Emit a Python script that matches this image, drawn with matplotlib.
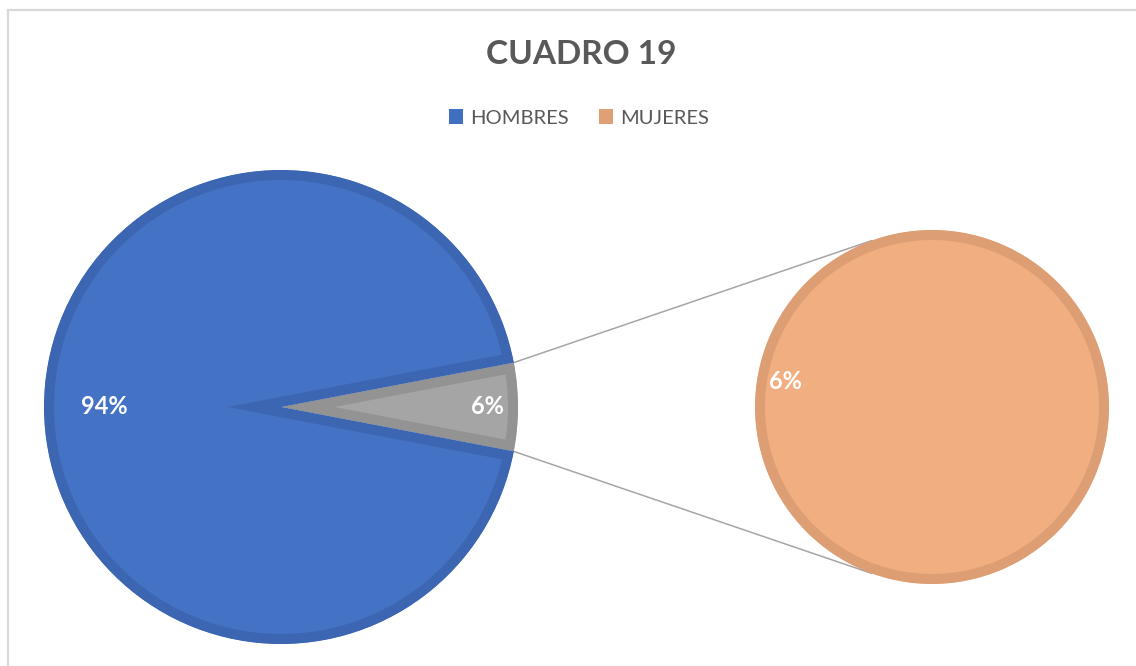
import numpy as np
import matplotlib
matplotlib.use("Agg")
import matplotlib.pyplot as plt
from matplotlib.patches import Patch, Rectangle

plt.rcParams["font.family"] = ["Lato", "DejaVu Sans"]

# data
categories = ['HOMBRES', 'MUJERES']
values = [94, 6]
title = 'CUADRO 19'

fill_colors = {'HOMBRES': '#4472C4', 'MUJERES': '#F1AE80', 'split': '#A5A5A5'}
edge_colors = {'HOMBRES': '#3C66B2', 'MUJERES': '#DE9E74', 'split': '#939393'}
legend_colors = ['#4070C0', '#DFA075']

W, H = 1136, 666
fig = plt.figure(figsize=(W / 100, H / 100), dpi=100)
ax = fig.add_axes([0, 0, 1, 1])
ax.set_xlim(0, W)
ax.set_ylim(0, H)
ax.set_aspect('equal')
ax.axis('off')

# chart-area frame (light grey)
ax.add_patch(Rectangle((8, -20), W + 40, H - 10 + 20, fill=False,
                       edgecolor='#D9D9D9', linewidth=1.6))

total = sum(values)
split_val = values[1]
split_deg = split_val / total * 360.0

# --- main pie (grey "other" slice first, centred on 0 deg) ---
c1 = (281, H - 407)
r1 = 237
main_vals = [split_val, values[0]]
main_fill = [fill_colors['split'], fill_colors['HOMBRES']]
main_edge = [edge_colors['split'], edge_colors['HOMBRES']]
wedges1, _, autot1 = ax.pie(main_vals, center=c1, radius=r1,
                            startangle=-split_deg / 2, counterclock=True,
                            colors=main_fill, autopct='%1.0f%%',
                            pctdistance=0.8, frame=True,
                            textprops=dict(color='white', fontsize=17,
                                           fontweight='bold'))
pct_dist = [0.87, 0.745]
for w, ec, t, d in zip(wedges1, main_edge, autot1, pct_dist):
    w.set_edgecolor(ec)
    w.set_linewidth(14.4)   # doubled; half is clipped -> inner stroke
    w.set_clip_on(True)
    w.set_clip_path(w)
    ang = np.deg2rad((w.theta1 + w.theta2) / 2)
    t.set_position((c1[0] + d * r1 * np.cos(ang), c1[1] + d * r1 * np.sin(ang)))

# --- secondary pie (breakdown of the grey slice) ---
c2 = (932, H - 407)
r2 = 177
wedges2, _, autot2 = ax.pie([values[1]], center=c2, radius=r2,
                            startangle=-10, colors=[fill_colors['MUJERES']],
                            autopct=lambda p: '{:.0f}%'.format(p * split_val / total),
                            pctdistance=0.84, frame=True,
                            textprops=dict(color='white', fontsize=17,
                                           fontweight='bold'))
for w in wedges2:
    w.set_edgecolor(edge_colors['MUJERES'])
    w.set_linewidth(14.4)
    w.set_clip_on(True)
    w.set_clip_path(w)

# connector lines between the grey slice and the second pie
gw = wedges1[0]
for a1, a2 in [(gw.theta2, 110), (gw.theta1, -110)]:
    p1 = (c1[0] + r1 * np.cos(np.deg2rad(a1)), c1[1] + r1 * np.sin(np.deg2rad(a1)))
    p2 = (c2[0] + r2 * np.cos(np.deg2rad(a2)), c2[1] + r2 * np.sin(np.deg2rad(a2)))
    ax.plot([p1[0], p2[0]], [p1[1], p2[1]], color='#A5A5A5', linewidth=1.1,
            zorder=0.5)

ax.set_xlim(0, W)
ax.set_ylim(0, H)

# title
fig.text(581 / W, 1 - 55 / H, title, ha='center', va='center',
         fontsize=24, fontweight='bold', color='#595959')

# legend
handles = [Patch(facecolor=c, edgecolor='none') for c in legend_colors]
fig.legend(handles, categories, loc='center', bbox_to_anchor=(579 / W, 1 - 118 / H),
           ncol=2, frameon=False, fontsize=14.5, labelcolor='#595959',
           handlelength=0.7, handleheight=0.7, handletextpad=0.35,
           columnspacing=1.5)

fig.savefig('out.png', dpi=100)
